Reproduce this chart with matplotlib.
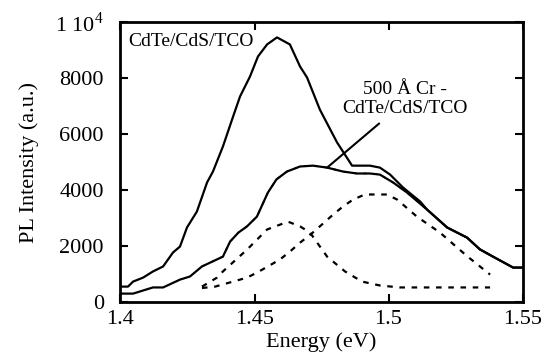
import matplotlib
matplotlib.use("Agg")
import matplotlib.pyplot as plt
from matplotlib.ticker import FixedLocator

plt.rcParams["font.family"] = ["Liberation Serif", "DejaVu Serif"]
plt.rcParams["mathtext.fontset"] = "custom"
plt.rcParams["mathtext.rm"] = "Liberation Serif"

# CdTe/CdS/TCO spectrum
e_tco = [1.400, 1.4028, 1.4047, 1.4084, 1.4121, 1.4159, 1.4196, 1.4222, 1.4248,
         1.4285, 1.4323, 1.4345, 1.4382, 1.4420, 1.4446, 1.4483, 1.4513, 1.4547,
         1.4584, 1.4632, 1.4670, 1.4696, 1.4744, 1.4808, 1.4864, 1.4931, 1.4968,
         1.5006, 1.5054, 1.5118, 1.5144, 1.5219, 1.5293, 1.5341, 1.5390, 1.5465,
         1.5498]
i_tco = [550, 550, 730, 870, 1090, 1270, 1770, 1980, 2660,
         3230, 4270, 4660, 5550, 6620, 7340, 8050, 8770, 9200,
         9450, 9200, 8410, 8020, 6870, 5700, 4870, 4870, 4800,
         4550, 4090, 3590, 3300, 2660, 2300, 1880, 1620, 1230,
         1230]

# 500 A Cr - CdTe/CdS/TCO spectrum
e_cr = [1.400, 1.4047, 1.4121, 1.4159, 1.4222, 1.4259, 1.4304, 1.4382, 1.4409,
        1.4440, 1.4472, 1.4509, 1.4550, 1.4582, 1.4621, 1.4670, 1.4718, 1.4771,
        1.4830, 1.4882, 1.4931, 1.4968, 1.5017, 1.5069, 1.5144, 1.5219, 1.5293,
        1.5341, 1.5390, 1.5465, 1.5498]
i_cr = [300, 300, 520, 520, 800, 910, 1270, 1620, 2160,
        2480, 2700, 3050, 3910, 4380, 4660, 4840, 4870, 4800,
        4660, 4590, 4590, 4550, 4270, 3910, 3300, 2660, 2300,
        1880, 1620, 1230, 1230]

# fitted peaks
e_g1 = [1.4304, 1.4360, 1.4382, 1.4472, 1.4547, 1.4625, 1.4670, 1.4707, 1.4771,
        1.4838, 1.4901, 1.4968, 1.5043, 1.5379]
i_g1 = [550, 870, 1090, 1870, 2590, 2870, 2700, 2480, 1620,
        1090, 730, 590, 520, 520]

e_g2 = [1.4304, 1.4353, 1.4420, 1.4472, 1.4509, 1.4550, 1.4595, 1.4632, 1.4670,
        1.4714, 1.4752, 1.4793, 1.4830, 1.4868, 1.4912, 1.4994, 1.5032, 1.5106,
        1.5192, 1.5293, 1.5379]
i_g2 = [500, 550, 730, 870, 1050, 1270, 1520, 1800, 2120,
        2450, 2770, 3120, 3410, 3660, 3840, 3840, 3660, 3050,
        2480, 1640, 980]

# sum of fitted peaks
e_sum = [1.4304, 1.4382, 1.4409, 1.4440, 1.4472, 1.4509, 1.4550, 1.4582, 1.4621,
         1.4670, 1.4718, 1.4771, 1.4830, 1.4882, 1.4931, 1.4968, 1.5017, 1.5069,
         1.5144, 1.5219, 1.5293, 1.5341, 1.5379]
i_sum = [1270, 1620, 2160, 2480, 2700, 3050, 3910, 4380, 4660,
         4840, 4870, 4800, 4660, 4590, 4590, 4550, 4270, 3910,
         3300, 2660, 2300, 1880, 1680]

y_ticks = [0, 2000, 4000, 6000, 8000, 10000]
y_labels = ["0", "2000", "4000", "6000", "8000", r"1 10$^{4}$"]
x_ticks = [1.4, 1.45, 1.5, 1.55]
x_labels = ["1.4", "1.45", "1.5", "1.55"]

fig = plt.figure(figsize=(5.44, 3.58), dpi=100)
ax = fig.add_axes([0.2215, 0.1564, 0.7390, 0.7821])

ax.plot(e_tco, i_tco, color="black", lw=1.6)
ax.plot(e_cr, i_cr, color="black", lw=1.6)
ax.plot(e_sum, i_sum, color="black", lw=1.2, ls=(0, (2, 4)))
ax.plot(e_g1, i_g1, color="black", lw=1.6, ls=(0, (2.5, 3)))
ax.plot(e_g2, i_g2, color="black", lw=1.6, ls=(0, (2.5, 3)))

ax.set_xlim(1.4, 1.55)
ax.set_ylim(0, 10000)
ax.xaxis.set_major_locator(FixedLocator(x_ticks))
ax.set_xticklabels(x_labels)
ax.yaxis.set_major_locator(FixedLocator(y_ticks))
ax.set_yticklabels(y_labels)
ax.tick_params(direction="in", length=6, width=1.5, top=True, right=True,
               labelsize=16)
ax.tick_params(axis="x", pad=6)
ax.tick_params(axis="y", pad=12)

for s in ax.spines.values():
    s.set_linewidth(2)

ax.set_xlabel("Energy (eV)", fontsize=16, labelpad=2)
ax.set_ylabel("PL Intensity (a.u.)", fontsize=16, labelpad=12)

ax.text(0.02, 0.93, "CdTe/CdS/TCO", transform=ax.transAxes, fontsize=14,
        va="center", ha="left")
ax.text(1.5062, 7250, "500 Å Cr -\nCdTe/CdS/TCO", fontsize=14,
        ha="center", va="center", linespacing=1.15)
ax.annotate("", xy=(1.4771, 4800), xytext=(1.4965, 6375),
            arrowprops=dict(arrowstyle="-", color="black", lw=1.5,
                            shrinkA=0, shrinkB=0))

fig.savefig("out.png", dpi=100)
